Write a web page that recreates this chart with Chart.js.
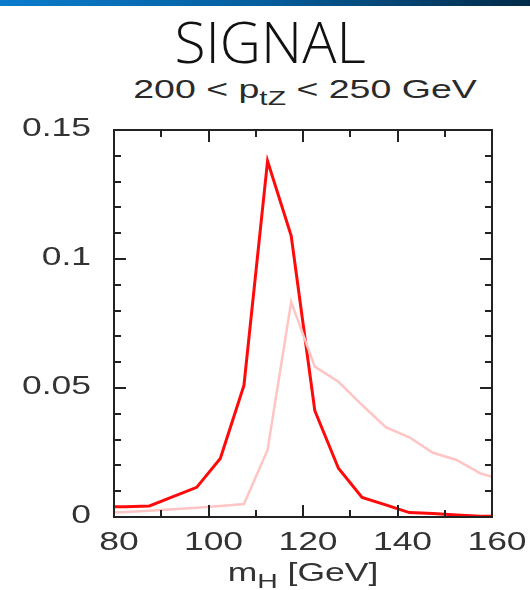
<!DOCTYPE html>
<html>
<head>
<meta charset="utf-8">
<script src="https://cdn.jsdelivr.net/npm/chart.js@4"></script>
<style>
  html, body { margin: 0; padding: 0; background: #fff; }
  #wrap { position: relative; width: 530px; height: 590px; overflow: hidden; }
  #bar { position: absolute; left: 0; top: 0; width: 530px; height: 6px;
         background: linear-gradient(to right, #0a7ccc, #055d9c 50%, #022a48); }
  .line { position: absolute; left: 0; width: 530px; text-align: center; white-space: nowrap; }
  #title { top: 9px; left: 5px; font-family: 'Open Sans', sans-serif; font-weight: 300; font-size: 57px; line-height: 64px; color: #111; }
  #sub { top: 75px; left: 40px; font-family: 'Liberation Sans', Arial, sans-serif; font-size: 25px; color: #2a2a2a;
         transform: scaleX(1.5); }
  #xtitle { top: 558px; left: 38px; font-family: 'Liberation Sans', Arial, sans-serif; font-size: 25px; color: #333;
            transform: scaleX(1.42); }
  sub { font-size: 0.8em; vertical-align: -0.35em; line-height: 0; }
  canvas { position: absolute; left: 0; top: 0; }
</style>
</head>
<body>
<div id="wrap">
  <div id="bar"></div>
  <div id="title" class="line">SIGNAL</div>
  <div id="sub" class="line">200 &lt; p<sub>tZ</sub> &lt; 250 GeV</div>
  <canvas id="c" width="530" height="590"></canvas>
  <div id="xtitle" class="line">m<sub>H</sub> [GeV]</div>
</div>
<script>
// bin centres in GeV (5 GeV bins, a bit past the axis range so the lines reach the frame)
const massBins = [77.5, 82.5, 87.5, 92.5, 97.5, 102.5, 107.5, 112.5, 117.5, 122.5, 127.5, 132.5, 137.5, 142.5, 147.5, 152.5, 157.5, 162.5];
// dark red curve
const signalA = [0.004, 0.004, 0.0043, 0.0079, 0.0115, 0.0227, 0.051, 0.138, 0.109, 0.0412, 0.0189, 0.0076, 0.0047, 0.0017, 0.0014, 0.0008, 0.0003, 0.0002];
// light pink curve
const signalB = [0.0016, 0.0019, 0.0024, 0.003, 0.0036, 0.0043, 0.005, 0.026, 0.0834, 0.0583, 0.0524, 0.0434, 0.0348, 0.0309, 0.0249, 0.0221, 0.0169, 0.0143];
const xTicks = [80, 100, 120, 140, 160];
const yTicks = [0, 0.05, 0.1, 0.15];
const yTickLabels = ['0', '0.05', '0.1', '0.15'];

const toXY = (ys) => massBins.map((x, i) => ({ x: x, y: ys[i] }));
const STRETCH = 1.42; // the labels in the source are drawn wide

// frame, inward ticks on all four sides, and the wide tick labels
const frameTicks = {
  id: 'frameTicks',
  afterDatasetsDraw(chart) {
    const { ctx, chartArea: a, scales } = chart;
    const xs = scales.x, ys = scales.y;
    ctx.save();
    ctx.strokeStyle = '#222';
    ctx.lineWidth = 2;
    for (let v = 80; v <= 160; v += 10) {
      const px = Math.round(xs.getPixelForValue(v));
      const len = v % 20 === 0 ? 12 : 7;
      ctx.beginPath();
      ctx.moveTo(px, a.bottom); ctx.lineTo(px, a.bottom - len);
      ctx.moveTo(px, a.top); ctx.lineTo(px, a.top + len);
      ctx.stroke();
    }
    for (let k = 0; k <= 15; k++) {
      const py = Math.round(ys.getPixelForValue(k / 100));
      const len = k % 5 === 0 ? 12 : 7;
      ctx.beginPath();
      ctx.moveTo(a.left, py); ctx.lineTo(a.left + len, py);
      ctx.moveTo(a.right, py); ctx.lineTo(a.right - len, py);
      ctx.stroke();
    }
    ctx.strokeRect(a.left, a.top, a.right - a.left, a.bottom - a.top);

    ctx.fillStyle = '#333';
    ctx.font = '25px "Liberation Sans", Arial, sans-serif';
    ctx.textBaseline = 'middle';
    ctx.textAlign = 'right';
    yTicks.forEach((v, i) => {
      const py = ys.getPixelForValue(v);
      ctx.save();
      ctx.translate(a.left - 23, py - 1);
      ctx.scale(STRETCH, 1);
      ctx.fillText(yTickLabels[i], 0, 0);
      ctx.restore();
    });
    ctx.textAlign = 'center';
    ctx.textBaseline = 'top';
    xTicks.forEach((v) => {
      const px = xs.getPixelForValue(v);
      ctx.save();
      ctx.translate(px + 5, a.bottom + 14);
      ctx.scale(STRETCH, 1);
      ctx.fillText(String(v), 0, 0);
      ctx.restore();
    });
    ctx.restore();
  }
};

new Chart(document.getElementById('c'), {
  type: 'line',
  data: {
    datasets: [
      { data: toXY(signalB), borderColor: '#ffc4c4', borderWidth: 2.5, pointRadius: 0, tension: 0, fill: false },
      { data: toXY(signalA), borderColor: '#ff0a0a', borderWidth: 3, pointRadius: 0, tension: 0, fill: false }
    ]
  },
  options: {
    responsive: false,
    animation: false,
    layout: { padding: { top: 130, right: 38, left: 0, bottom: 0 } },
    plugins: { legend: { display: false }, tooltip: { enabled: false } },
    scales: {
      x: {
        type: 'linear', min: 80, max: 160,
        afterBuildTicks: (s) => { s.ticks = xTicks.map(v => ({ value: v })); },
        afterFit: (s) => { s.height = 73; },
        grid: { display: false }, border: { display: false },
        ticks: { display: false }
      },
      y: {
        min: 0, max: 0.15,
        afterBuildTicks: (s) => { s.ticks = yTicks.map(v => ({ value: v })); },
        afterFit: (s) => { s.width = 114; },
        grid: { display: false }, border: { display: false },
        ticks: { display: false }
      }
    }
  },
  plugins: [frameTicks]
});
</script>
</body>
</html>
